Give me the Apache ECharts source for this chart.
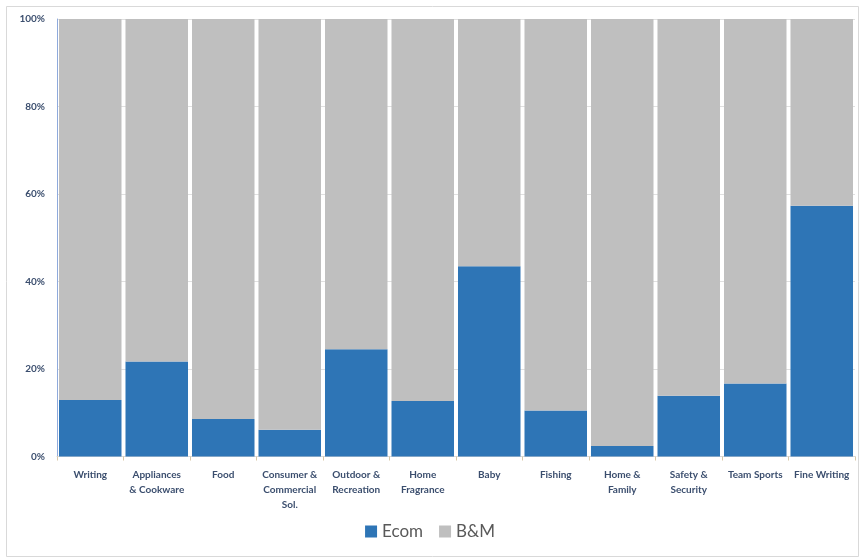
<!DOCTYPE html>
<html>
<head>
<meta charset="utf-8">
<script src="https://cdn.jsdelivr.net/npm/echarts@6/dist/echarts.min.js"></script>
<style>
html,body{margin:0;padding:0;background:#fff;}
#chart{width:860px;height:558px;}
</style>
</head>
<body>
<div id="chart"></div>
<script>
const categories = ["Writing", "Appliances\n& Cookware", "Food", "Consumer &\nCommercial\nSol.", "Outdoor &\nRecreation", "Home\nFragrance", "Baby", "Fishing", "Home &\nFamily", "Safety &\nSecurity", "Team Sports", "Fine Writing"];
const ecom = [12.9, 21.7, 8.6, 6.1, 24.5, 12.7, 43.5, 10.5, 2.4, 13.9, 16.7, 57.3];
const bm = ecom.map(v => +(100 - v).toFixed(1));
const yTicks = [0, 20, 40, 60, 80, 100];

const chart = echarts.init(document.getElementById('chart'));
const fontFam = 'Lato, "Liberation Sans", sans-serif';
chart.setOption({
  animation: false,
  backgroundColor: '#fff',
  graphic: [{
    type: 'rect', left: 4, top: 4, shape: {width: 852, height: 550},
    style: {fill: 'none', stroke: '#d9d9d9', lineWidth: 1}, silent: true, z: -1
  }],
  grid: {left: 57, right: 5, top: 19, bottom: 101.5, containLabel: false},
  legend: {
    data: ['Ecom', 'B&M'],
    bottom: 13,
    left: 'center',
    itemWidth: 12, itemHeight: 12, itemGap: 16,
    icon: 'rect',
    textStyle: {fontSize: 17, color: '#595959', fontFamily: fontFam}
  },
  xAxis: {
    type: 'category',
    data: categories,
    axisLine: {show: true, lineStyle: {color: '#d9d9d9'}},
    axisTick: {show: true, length: 4, lineStyle: {color: '#d9c9a9'}},
    axisLabel: {interval: 0, color: '#3b4e6e', fontWeight: 'bold', fontSize: 10, lineHeight: 15, margin: 11, fontFamily: fontFam}
  },
  yAxis: {
    type: 'value',
    min: 0, max: 100, interval: 20,
    axisLine: {show: true, lineStyle: {color: '#8faadc'}},
    axisTick: {show: false},
    splitLine: {lineStyle: {color: '#e0e0e0'}},
    axisLabel: {color: '#3b4e6e', fontWeight: 'bold', fontSize: 10, margin: 12, fontFamily: fontFam,
      formatter: v => yTicks.includes(v) ? v + '%' : ''}
  },
  series: [
    {name: 'Ecom', type: 'bar', stack: 'total', data: ecom, barCategoryGap: '6%',
      itemStyle: {color: '#2e75b6'}},
    {name: 'B&M', type: 'bar', stack: 'total', data: bm, barCategoryGap: '6%',
      itemStyle: {color: '#bfbfbf'}}
  ]
});
</script>
</body>
</html>
